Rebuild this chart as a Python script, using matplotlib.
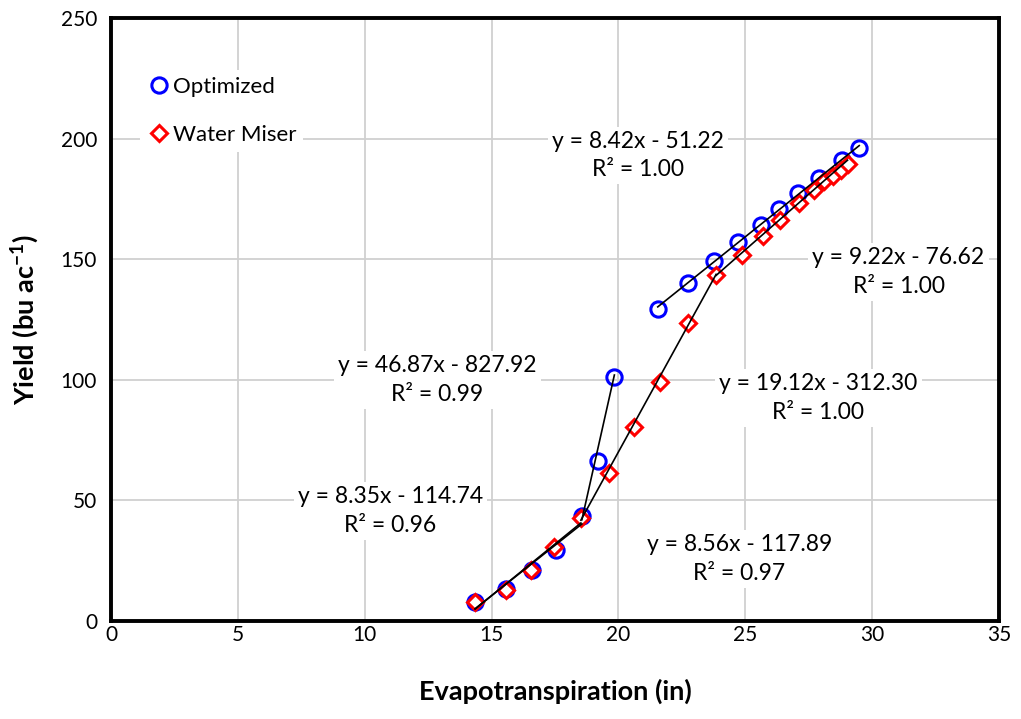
import matplotlib
matplotlib.use("Agg")
import matplotlib.pyplot as plt
import numpy as np

plt.rcParams['font.family'] = ['Lato', 'DejaVu Sans']
plt.rcParams['mathtext.fontset'] = 'custom'
plt.rcParams['mathtext.rm'] = 'Lato'
plt.rcParams['mathtext.bf'] = 'Lato:bold'

# Evapotranspiration (in) and yield (bu/ac) for each irrigation strategy
opt_et = [14.35, 15.56, 16.61, 17.54, 18.56, 19.18, 19.84,
          21.55, 22.74, 23.78, 24.71, 25.62, 26.34, 27.09, 27.91, 28.80, 29.49]
opt_yield = [7.7, 13.1, 21.1, 29.4, 43.5, 66.3, 101.3,
             129.2, 140.3, 149.1, 157.3, 164.2, 170.8, 177.3, 183.7, 191.0, 196.0]

wm_et = [14.35, 15.56, 16.55, 17.47, 18.52, 19.64, 20.63, 21.64, 22.75,
         23.85, 24.89, 25.68, 26.38, 27.10, 27.71, 28.12, 28.44, 28.79, 29.03]
wm_yield = [7.7, 12.9, 21.1, 30.8, 42.8, 61.2, 80.6, 99.2, 123.5,
            143.3, 151.9, 159.5, 166.4, 173.3, 178.7, 182.4, 184.5, 187.0, 189.5]

# Piecewise linear fits: (slope, intercept, R², x start, x end)
opt_fits = [(8.35, -114.74, 0.96, 14.35, 18.56),
            (46.87, -827.92, 0.99, 18.56, 19.84),
            (8.42, -51.22, 1.00, 21.55, 29.49)]
wm_fits = [(8.56, -117.89, 0.97, 14.35, 18.52),
           (19.12, -312.30, 1.00, 18.52, 23.85),
           (9.22, -76.62, 1.00, 23.85, 29.03)]

# Label anchor for each fit equation (same order as the fits above)
opt_label_pos = [(11.02, 45.5), (12.87, 100.0), (20.77, 193.0)]
wm_label_pos = [(24.76, 25.7), (27.88, 92.5), (31.04, 144.7)]

x_ticks = [0, 5, 10, 15, 20, 25, 30, 35]
y_ticks = [0, 50, 100, 150, 200, 250]

fig = plt.figure(figsize=(10.21, 7.19), dpi=100)
ax = fig.add_axes([111 / 1021, 1 - 621 / 719, 888 / 1021, 603 / 719])

ax.set_xlim(0, 35)
ax.set_ylim(0, 250)
ax.set_xticks(x_ticks)
ax.set_yticks(y_ticks)
ax.grid(True, color='#d0d0d0', linewidth=1.3)
ax.set_axisbelow(True)
ax.tick_params(axis='both', length=0, labelsize=15)
ax.tick_params(axis='x', pad=3)
ax.tick_params(axis='y', pad=10)

for side in ['top', 'right', 'bottom', 'left']:
    ax.spines[side].set_linewidth(2.8)
    ax.spines[side].set_color('black')

ax.plot(opt_et, opt_yield, linestyle='none', marker='o', markersize=11,
        markerfacecolor='none', markeredgecolor='#0000ff', markeredgewidth=2.2,
        label='Optimized', zorder=3)
ax.plot(wm_et, wm_yield, linestyle='none', marker='D', markersize=8,
        markerfacecolor='white', markeredgecolor='#ff0000', markeredgewidth=2.2,
        label='Water Miser', zorder=4)

def fmt_eq(m, b):
    sign = '-' if b < 0 else '+'
    return f"y = {m:.2f}x {sign} {abs(b):.2f}\nR\u00b2 = "

for fits, positions in ((opt_fits, opt_label_pos), (wm_fits, wm_label_pos)):
    for (m, b, r2, x0, x1), (lx, ly) in zip(fits, positions):
        xs = np.array([x0, x1])
        ax.plot(xs, m * xs + b, color='black', linewidth=1.2, zorder=5)
        ax.text(lx, ly, fmt_eq(m, b) + f"{r2:.2f}", ha='center', va='center',
                fontsize=16.5, linespacing=1.45, zorder=6,
                bbox=dict(facecolor='white', edgecolor='none', pad=3))

leg = ax.legend(loc='upper left', bbox_to_anchor=(0.033, 0.913), frameon=True,
                fontsize=16, handletextpad=0.05, handlelength=1.1,
                labelspacing=1.25, borderaxespad=0, borderpad=0.3)
leg.get_frame().set_edgecolor('none')
leg.get_frame().set_facecolor('white')
leg.get_frame().set_alpha(1)

ax.set_xlabel('Evapotranspiration (in)', fontsize=19.5, fontweight='bold', labelpad=24)
ax.set_ylabel('Yield (bu ac$^{\\mathbf{-1}}$)', fontsize=19.5, fontweight='bold', labelpad=14)

fig.savefig('out.png', dpi=100)
